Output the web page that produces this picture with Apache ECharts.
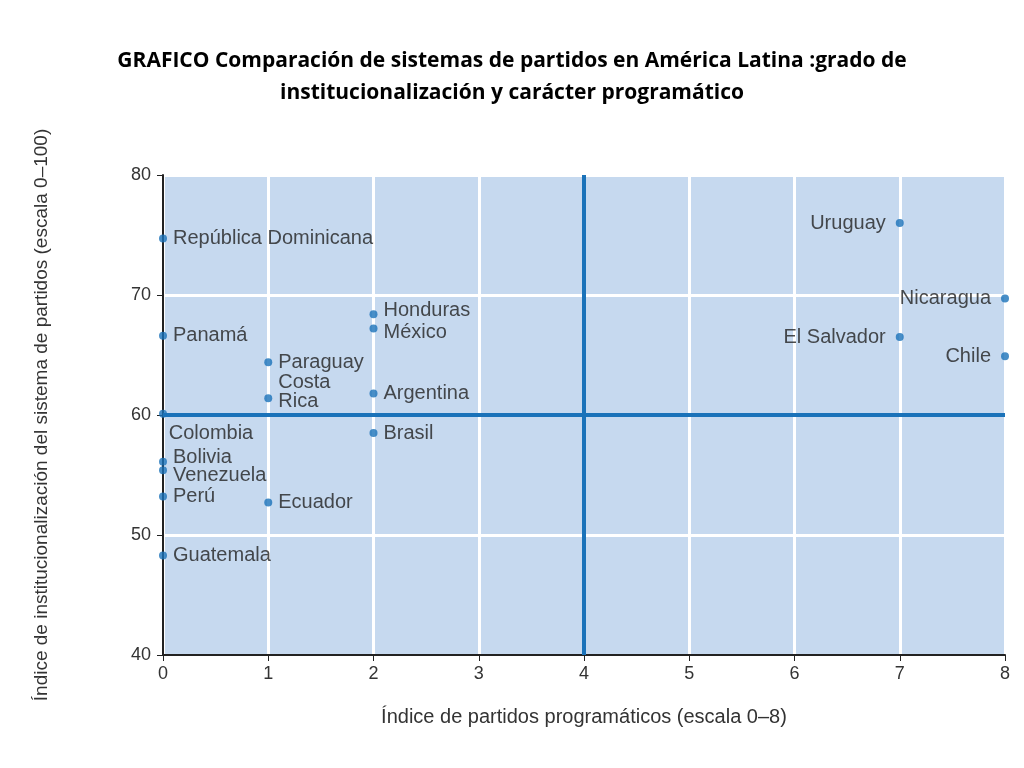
<!DOCTYPE html>
<html>
<head>
<meta charset="utf-8">
<script src="https://cdn.jsdelivr.net/npm/echarts@6/dist/echarts.min.js"></script>
<style>
html,body{margin:0;padding:0;background:#fff;}
#main{width:1024px;height:768px;}
</style>
</head>
<body>
<div id="main"></div>
<script>
// paises a la derecha del punto
var countries = ['República Dominicana','Panamá','Colombia','Bolivia','Venezuela','Perú','Guatemala',
	'Paraguay','Costa\nRica','Ecuador','Honduras','México','Argentina','Brasil'];
var progIndex = [0,0,0,0,0,0,0,1,1,1,2,2,2,2];
var instIndex = [74.7,66.6,60.1,56.1,55.4,53.2,48.3,64.4,61.4,52.7,68.4,67.2,61.8,58.5];
// paises con etiqueta a la izquierda
var countriesL = ['Uruguay','Nicaragua','El Salvador','Chile'];
var progIndexL = [7,8,7,8];
var instIndexL = [76,69.7,66.5,64.9];

var blue = '#1a72b9';
function pts(names, xs, ys){
	var out = [];
	for (var i = 0; i < names.length; i++) out.push({value:[xs[i], ys[i]], name:names[i]});
	return out;
}
var right = pts(countries, progIndex, instIndex);
right[2].label = {position:'bottom', offset:[48,0]}; // Colombia
right[3].label = {offset:[0,-4]};
right[4].label = {offset:[0,5]};
right[8].label = {lineHeight:19, offset:[0,-6]};
right[10].label = {offset:[0,-4]};
right[11].label = {offset:[0,4]};

var fnt = 'Liberation Sans';
var myChart = echarts.init(document.getElementById('main'));
myChart.setOption({
	title: {
		text: 'GRAFICO Comparación de sistemas de partidos en América Latina :grado de\ninstitucionalización y carácter programático',
		left: 'center', top: 40,
		textStyle: {fontFamily:'Open Sans', fontWeight:'bold', fontSize:21, lineHeight:32, color:'#000'}
	},
	grid: {left:163, right:19, top:175, bottom:113, show:true, backgroundColor:'#c6d9ef', borderWidth:0},
	xAxis: {
		type:'value', min:0, max:8, interval:1,
		name:'Índice de partidos programáticos (escala 0–8)', nameLocation:'middle', nameGap:52,
		nameTextStyle:{fontFamily:fnt, fontSize:20, color:'#333'},
		axisLine:{lineStyle:{color:'#222', width:2}},
		axisTick:{length:6, lineStyle:{color:'#222'}},
		axisLabel:{fontFamily:fnt, fontSize:18, color:'#333', margin:10},
		splitLine:{lineStyle:{color:'#fff', width:3}}
	},
	yAxis: {
		type:'value', min:40, max:80, interval:10,
		name:'Índice de institucionalización del sistema de partidos (escala 0–100)', nameLocation:'middle', nameGap:112,
		nameTextStyle:{fontFamily:fnt, fontSize:19, color:'#333'},
		axisLine:{lineStyle:{color:'#222', width:2}},
		axisTick:{length:6, lineStyle:{color:'#222'}},
		axisLabel:{fontFamily:fnt, fontSize:18, color:'#333', margin:12},
		splitLine:{lineStyle:{color:'#fff', width:3}}
	},
	series: [
		{
			type:'scatter', symbolSize:8, itemStyle:{color:blue},
			data: right,
			label:{show:true, position:'right', distance:6, formatter:'{b}',
				fontFamily:fnt, fontSize:20, color:'#222', lineHeight:19},
			markLine:{
				silent:true, symbol:'none', label:{show:false},
				lineStyle:{color:blue, width:4, type:'solid'},
				data:[{xAxis:4},{yAxis:60}]
			},
			z:5
		},
		{
			type:'scatter', symbolSize:8, itemStyle:{color:blue},
			data: pts(countriesL, progIndexL, instIndexL),
			label:{show:true, position:'left', distance:10, formatter:'{b}',
				fontFamily:fnt, fontSize:20, color:'#222'},
			z:5
		}
	]
});
</script>
</body>
</html>
